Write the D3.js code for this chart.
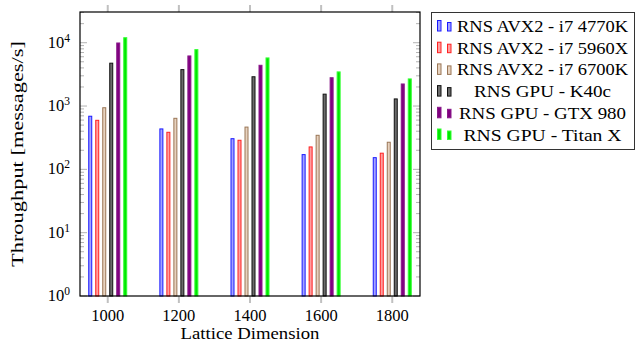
<!DOCTYPE html>
<html><head><meta charset="utf-8">
<script src="https://cdn.jsdelivr.net/npm/d3@7"></script>
<style>
html,body{margin:0;padding:0;background:#fff;}
svg{display:block;font-family:"Liberation Serif","Times New Roman",serif;}
</style></head>
<body>
<svg id="chart" width="636" height="342"></svg>
<script>
const categories = [1000, 1200, 1400, 1600, 1800];
const seriesNames = ["RNS AVX2 - i7 4770K","RNS AVX2 - i7 5960X","RNS AVX2 - i7 6700K","RNS GPU - K40c","RNS GPU - GTX 980","RNS GPU - Titan X"];
const avx4770 = [690, 435, 305, 171, 153];
const avx5960 = [595, 385, 288, 226, 180];
const avx6700 = [940, 640, 465, 345, 268];
const gpuK40c = [4750, 3760, 2900, 1540, 1295];
const gpuGTX980 = [9900, 6180, 4400, 2800, 2230];
const gpuTitanX = [12000, 7780, 5750, 3460, 2680];
const seriesValues = [avx4770, avx5960, avx6700, gpuK40c, gpuGTX980, gpuTitanX];
const yTickValues = [1, 10, 100, 1000, 10000];
const yTickExponents = ["0","1","2","3","4"];
const xLabel = "Lattice Dimension";
const yLabel = "Throughput [messages/s]";

const fills = ["#a3a3ff","#ff9f9f","#e6d2bf","#6b6b6b","#800080","#00e600"];
const strokes = ["#1a1aff","#ff2020","#9a7656","#111111","#8a1a8a","#33ff33"];
const legendWidths = [171, 171, 171, 137, 167, 158];

const svg = d3.select("#chart");
const L = 80, R = 420, T = 12, B = 296;
const x = d3.scaleLinear().domain([922, 1878]).range([L, R]);
const y = d3.scaleLog().domain([1, Math.pow(10, 4.485)]).range([B, T]);

// bars
const step = 7, bw = 3;
seriesValues.forEach((vals, si) => {
  svg.append("g").selectAll("rect").data(vals).join("rect")
    .attr("x", (d, i) => x(categories[i]) + (si - 2.5) * step - bw / 2)
    .attr("y", d => y(d))
    .attr("width", bw)
    .attr("height", d => y(1) - y(d))
    .attr("fill", fills[si])
    .attr("stroke", strokes[si])
    .attr("stroke-width", 1);
});

// y ticks (minor + major), inside left and right
const tickG = svg.append("g").attr("stroke", "#a0a0a0").attr("stroke-width", 0.8);
const minorVals = [];
for (let e = 0; e < 5; e++) for (let m = 2; m <= 9; m++) { const v = m * Math.pow(10, e); if (v < y.domain()[1]) minorVals.push(v); }
minorVals.forEach(v => {
  tickG.append("line").attr("x1", L).attr("x2", L + 4).attr("y1", y(v)).attr("y2", y(v));
  tickG.append("line").attr("x1", R).attr("x2", R - 4).attr("y1", y(v)).attr("y2", y(v));
});
yTickValues.forEach(v => {
  tickG.append("line").attr("x1", L).attr("x2", L + 7).attr("y1", y(v)).attr("y2", y(v));
  tickG.append("line").attr("x1", R).attr("x2", R - 7).attr("y1", y(v)).attr("y2", y(v));
});

// x ticks outside top & bottom
const xtG = svg.append("g").attr("stroke", "#c0c0c0").attr("stroke-width", 2);
categories.forEach(c => {
  xtG.append("line").attr("x1", x(c)).attr("x2", x(c)).attr("y1", B).attr("y2", B + 7);
  xtG.append("line").attr("x1", x(c)).attr("x2", x(c)).attr("y1", T).attr("y2", T - 7);
});

// frame
svg.append("rect").attr("x", L).attr("y", T).attr("width", R - L).attr("height", B - T)
  .attr("fill", "none").attr("stroke", "#000").attr("stroke-width", 1.2);

// x tick labels
svg.append("g").selectAll("text").data(categories).join("text")
  .attr("x", d => x(d)).attr("y", 321).attr("text-anchor", "middle")
  .attr("font-size", 16.5).text(d => d);

// y tick labels
yTickValues.forEach((v, i) => {
  const t = svg.append("text").attr("x", 70).attr("y", y(v) + 5).attr("text-anchor", "end").attr("font-size", 16.5);
  t.append("tspan").text("10");
  t.append("tspan").attr("dy", -6).attr("font-size", 11.5).text(yTickExponents[i]);
});

// axis labels
svg.append("text").attr("x", (L + R) / 2).attr("y", 339).attr("text-anchor", "middle")
  .attr("font-size", 17).attr("textLength", 139).attr("lengthAdjust", "spacingAndGlyphs").text(xLabel);
svg.append("text").attr("transform", `translate(23,${(T + B) / 2}) rotate(-90)`)
  .attr("text-anchor", "middle").attr("font-size", 17)
  .attr("textLength", 226).attr("lengthAdjust", "spacingAndGlyphs").text(yLabel);

// legend
const lg = svg.append("g");
lg.append("rect").attr("x", 431.5).attr("y", 12.5).attr("width", 203).attr("height", 137)
  .attr("fill", "#fff").attr("stroke", "#333").attr("stroke-width", 1);
seriesNames.forEach((name, i) => {
  const base = 32 + i * 21.7;
  lg.append("rect").attr("x", 437.5).attr("y", base - 11.5).attr("width", 3.5).attr("height", 10.5)
    .attr("fill", fills[i]).attr("stroke", strokes[i]).attr("stroke-width", 1);
  lg.append("rect").attr("x", 447.5).attr("y", base - 9.5).attr("width", 3.5).attr("height", 8.5)
    .attr("fill", fills[i]).attr("stroke", strokes[i]).attr("stroke-width", 1);
  lg.append("text").attr("x", 542.5).attr("y", base).attr("text-anchor", "middle")
    .attr("font-size", 17).attr("textLength", legendWidths[i]).attr("lengthAdjust", "spacingAndGlyphs").text(name);
});
</script>
</body></html>
